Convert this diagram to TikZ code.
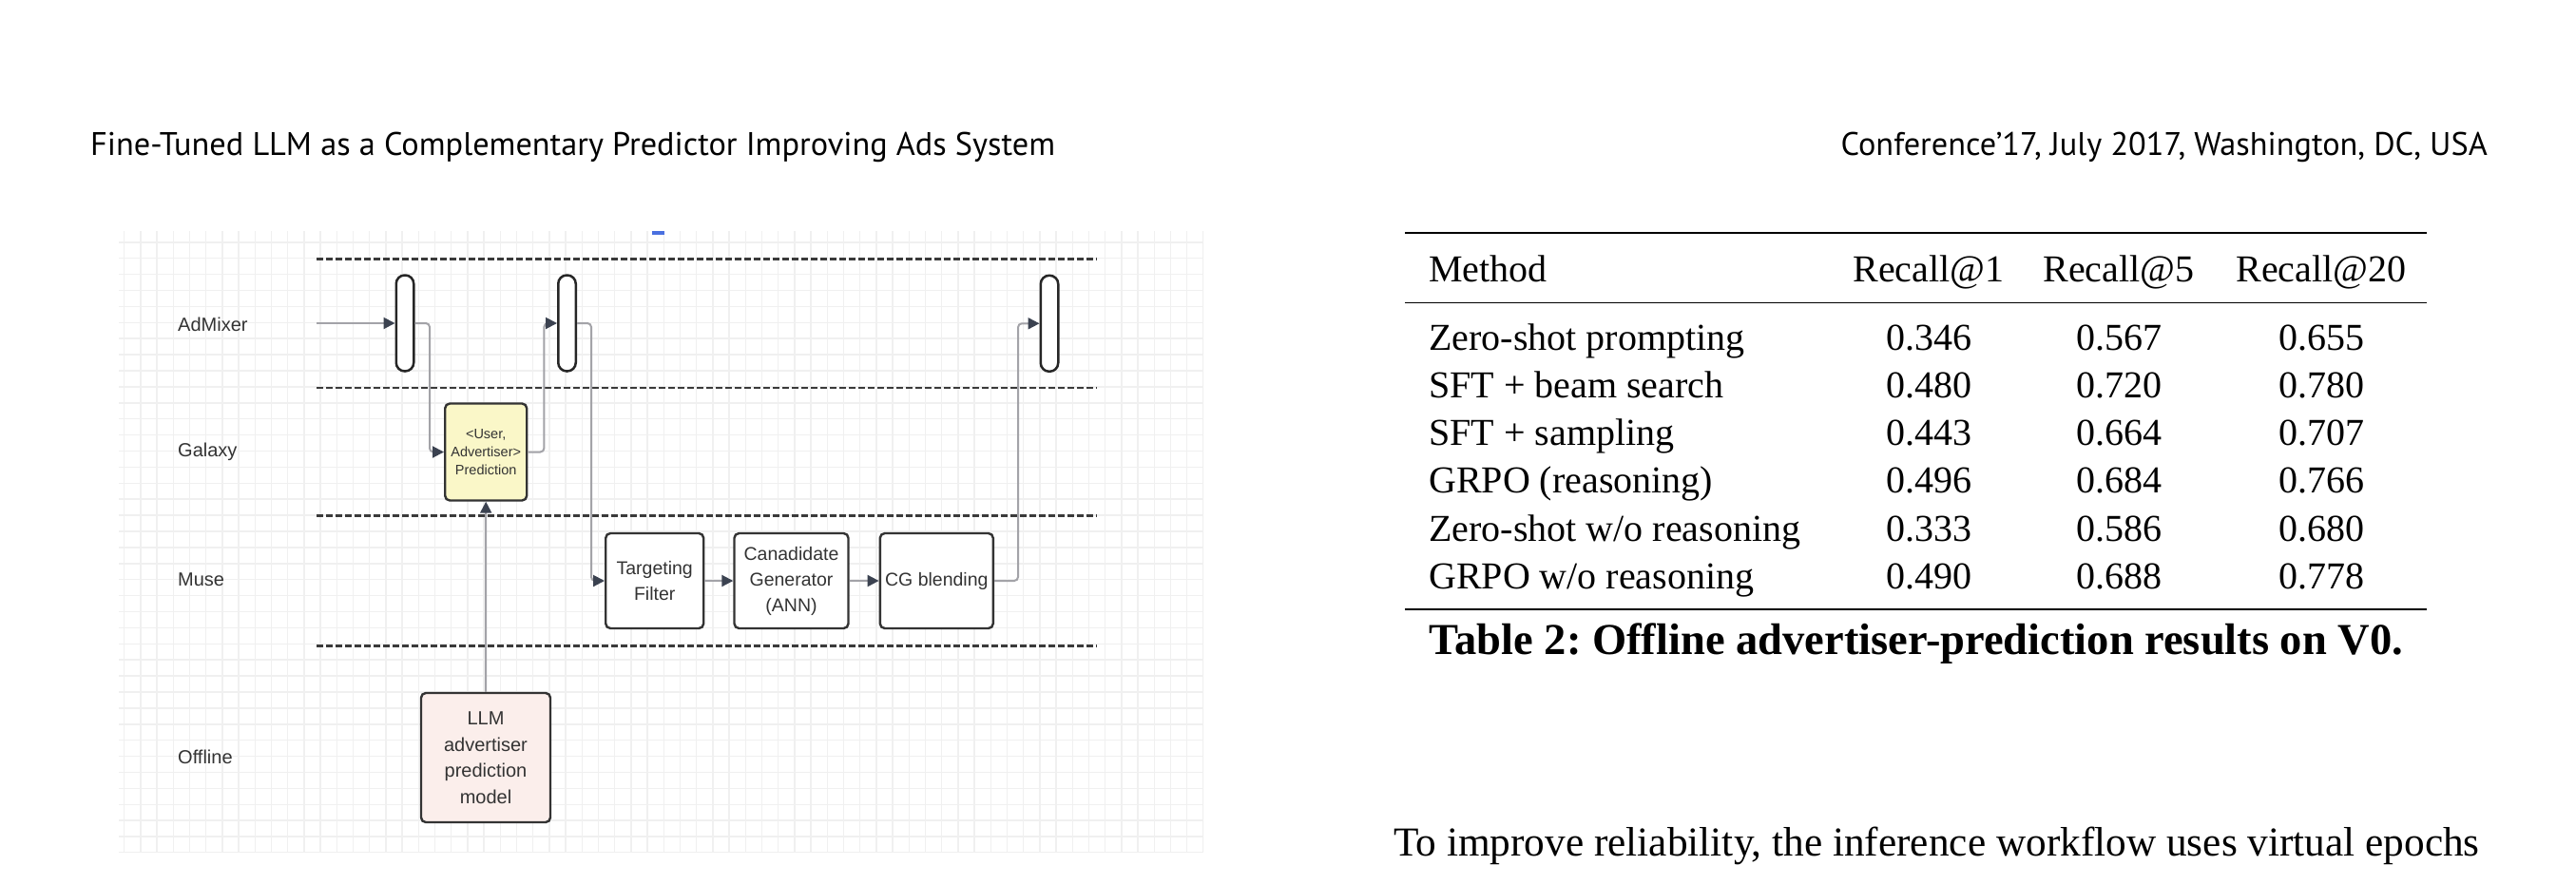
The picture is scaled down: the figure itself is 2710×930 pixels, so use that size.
\documentclass[tikz,border=0pt]{standalone}
\usepackage{fontspec}
\setmainfont{Liberation Serif}
\newfontfamily\diafont{Liberation Sans}
\newfontfamily\hdrfont{PT Sans}
\usetikzlibrary{arrows.meta}
\frenchspacing
\definecolor{gridc}{HTML}{F0F0F0}
\definecolor{dashc}{HTML}{3A3A3A}
\definecolor{linec}{HTML}{A3A3A8}
\definecolor{tipc}{HTML}{3B4250}
\definecolor{boxc}{HTML}{333333}
\definecolor{txtc}{HTML}{333333}
\definecolor{yellowf}{HTML}{FAF7C8}
\definecolor{pinkf}{HTML}{FBEEEB}
\definecolor{markc}{HTML}{4A70E0}
\tikzset{
 lane/.style={dashc, line width=2.7pt, dash pattern=on 7pt off 3pt},
 lanelabel/.style={font=\diafont\fontsize{20}{24}\selectfont, text=txtc, anchor=west, inner sep=0pt},
 pill/.style={draw=black!85, line width=2.5pt, fill=white, rounded corners=9pt, minimum width=18.5pt, minimum height=101pt, inner sep=0pt},
 procbox/.style={draw=boxc, line width=2.4pt, fill=white, rounded corners=5pt, inner sep=0pt, align=center, text=txtc, font=\diafont\fontsize{19.5}{27}\selectfont},
 conn/.style={linec, line width=2pt, rounded corners=4pt, -{Triangle[length=12pt,width=12pt,color=tipc]}},
 cell/.style={font=\fontsize{40}{48}\selectfont, anchor=base, inner sep=0pt},
 cellL/.style={cell, anchor=base west},
 rule/.style={line width=2.7pt},
}
\begin{document}
\begin{tikzpicture}[x=1pt,y=-1pt]
\useasboundingbox (0,0) rectangle (2710,930);
\fill[white] (0,0) rectangle (2710,930);
% grid
\begin{scope}
\clip (125,243) rectangle (1266,896);
\foreach \i in {0,...,66} \draw[gridc, line width=1.5pt] (130.7+\i*17.2,243) -- (130.7+\i*17.2,896);
\foreach \j in {0,...,38} \draw[gridc, line width=1.5pt] (125,254.8+\j*16.9) -- (1266,254.8+\j*16.9);
\end{scope}
\fill[markc] (686,242.5) rectangle (699,246.5);
% lanes
\foreach \y in {272.7,408,542.5,679.3} \draw[lane] (333,\y) -- (1154,\y);
\node[lanelabel] (lA) at (187,341) {AdMixer};
\node[lanelabel] (lG) at (187,475) {Galaxy};
\node[lanelabel] (lM) at (187,610) {Muse};
\node[lanelabel] (lO) at (187,796) {Offline};
% nodes
\node[pill] (p1) at (426,340) {};
\node[pill] (p2) at (596.5,340) {};
\node[pill] (p3) at (1104,340.3) {};
\node[procbox, fill=yellowf, minimum width=86pt, minimum height=102pt, font=\diafont\fontsize{14.5}{18.7}\selectfont] (yel) at (511.2,475.5) {<User,\\Advertiser>\\Prediction};
\node[procbox, minimum width=103pt, minimum height=100pt] (tf) at (688.7,611) {Targeting\\Filter};
\node[procbox, minimum width=120pt, minimum height=100pt] (cg) at (832.5,611) {Canadidate\\Generator\\(ANN)};
\node[procbox, minimum width=119pt, minimum height=100pt] (bl) at (985.3,611) {CG blending};
\node[procbox, fill=pinkf, minimum width=136pt, minimum height=136pt, font=\diafont\fontsize{20}{27.5}\selectfont] (llm) at (511,797) {LLM\\advertiser\\prediction\\model};
% connectors
\coordinate (in0) at (333,340);
\draw[conn] (in0) -- (p1.west);
\draw[conn] (p1.east) -- ++(15.5,0) |- (yel.west);
\draw[conn] (yel.east) -- ++(17,0) |- (p2.west);
\draw[conn] (p2.east) -- ++(15,0) |- (tf.west);
\draw[conn] (tf) -- (cg);
\draw[conn] (cg) -- (bl);
\draw[conn] (bl.east) -- ++(25,0) |- (p3.west);
\draw[conn] (llm.north) -- (yel.south);
% header
\node[font=\hdrfont\fontsize{34.3}{40}\selectfont, anchor=base west, inner sep=0pt] (h1) at (95,163) {Fine-Tuned LLM as a Complementary Predictor Improving Ads System};
\node[font=\hdrfont\fontsize{34.3}{40}\selectfont, anchor=base east, inner sep=0pt] (h2) at (2617,163) {Conference’17, July 2017, Washington, DC, USA};
% table
\draw[rule] (1478,245) -- (2553,245);
\draw[line width=1.8pt] (1478,318.5) -- (2553,318.5);
\draw[rule] (1478,641) -- (2553,641);
\node[cellL] (th0) at (1503,296.5) {Method};
\node[cell] (th1) at (2029,296.5) {Recall@1};
\node[cell] (th2) at (2229,296.5) {Recall@5};
\node[cell] (th3) at (2442,296.5) {Recall@20};
\foreach \y/\m/\a/\b/\c [count=\k] in {
 368/Zero-shot prompting/0.346/0.567/0.655,
 418.3/SFT + beam search/0.480/0.720/0.780,
 468.5/SFT + sampling/0.443/0.664/0.707,
 518.8/GRPO (reasoning)/0.496/0.684/0.766,
 569/Zero-shot w\slash o reasoning/0.333/0.586/0.680,
 619.3/GRPO w\slash o reasoning/0.490/0.688/0.778}{
 \node[cellL] (m\k) at (1503,\y) {\m};
 \node[cell] (a\k) at (2029,\y) {\a};
 \node[cell] (b\k) at (2229,\y) {\b};
 \node[cell] (c\k) at (2442,\y) {\c};
}
\node[cell, font=\bfseries\fontsize{46.5}{52}\selectfont] (cap) at (2016,688) {Table 2: Offline advertiser-prediction results on V0.};
\node[cellL, font=\fontsize{43.3}{50}\selectfont] (body) at (1466,900) {To improve reliability, the inference workflow uses virtual epochs};
\end{tikzpicture}
\end{document}
